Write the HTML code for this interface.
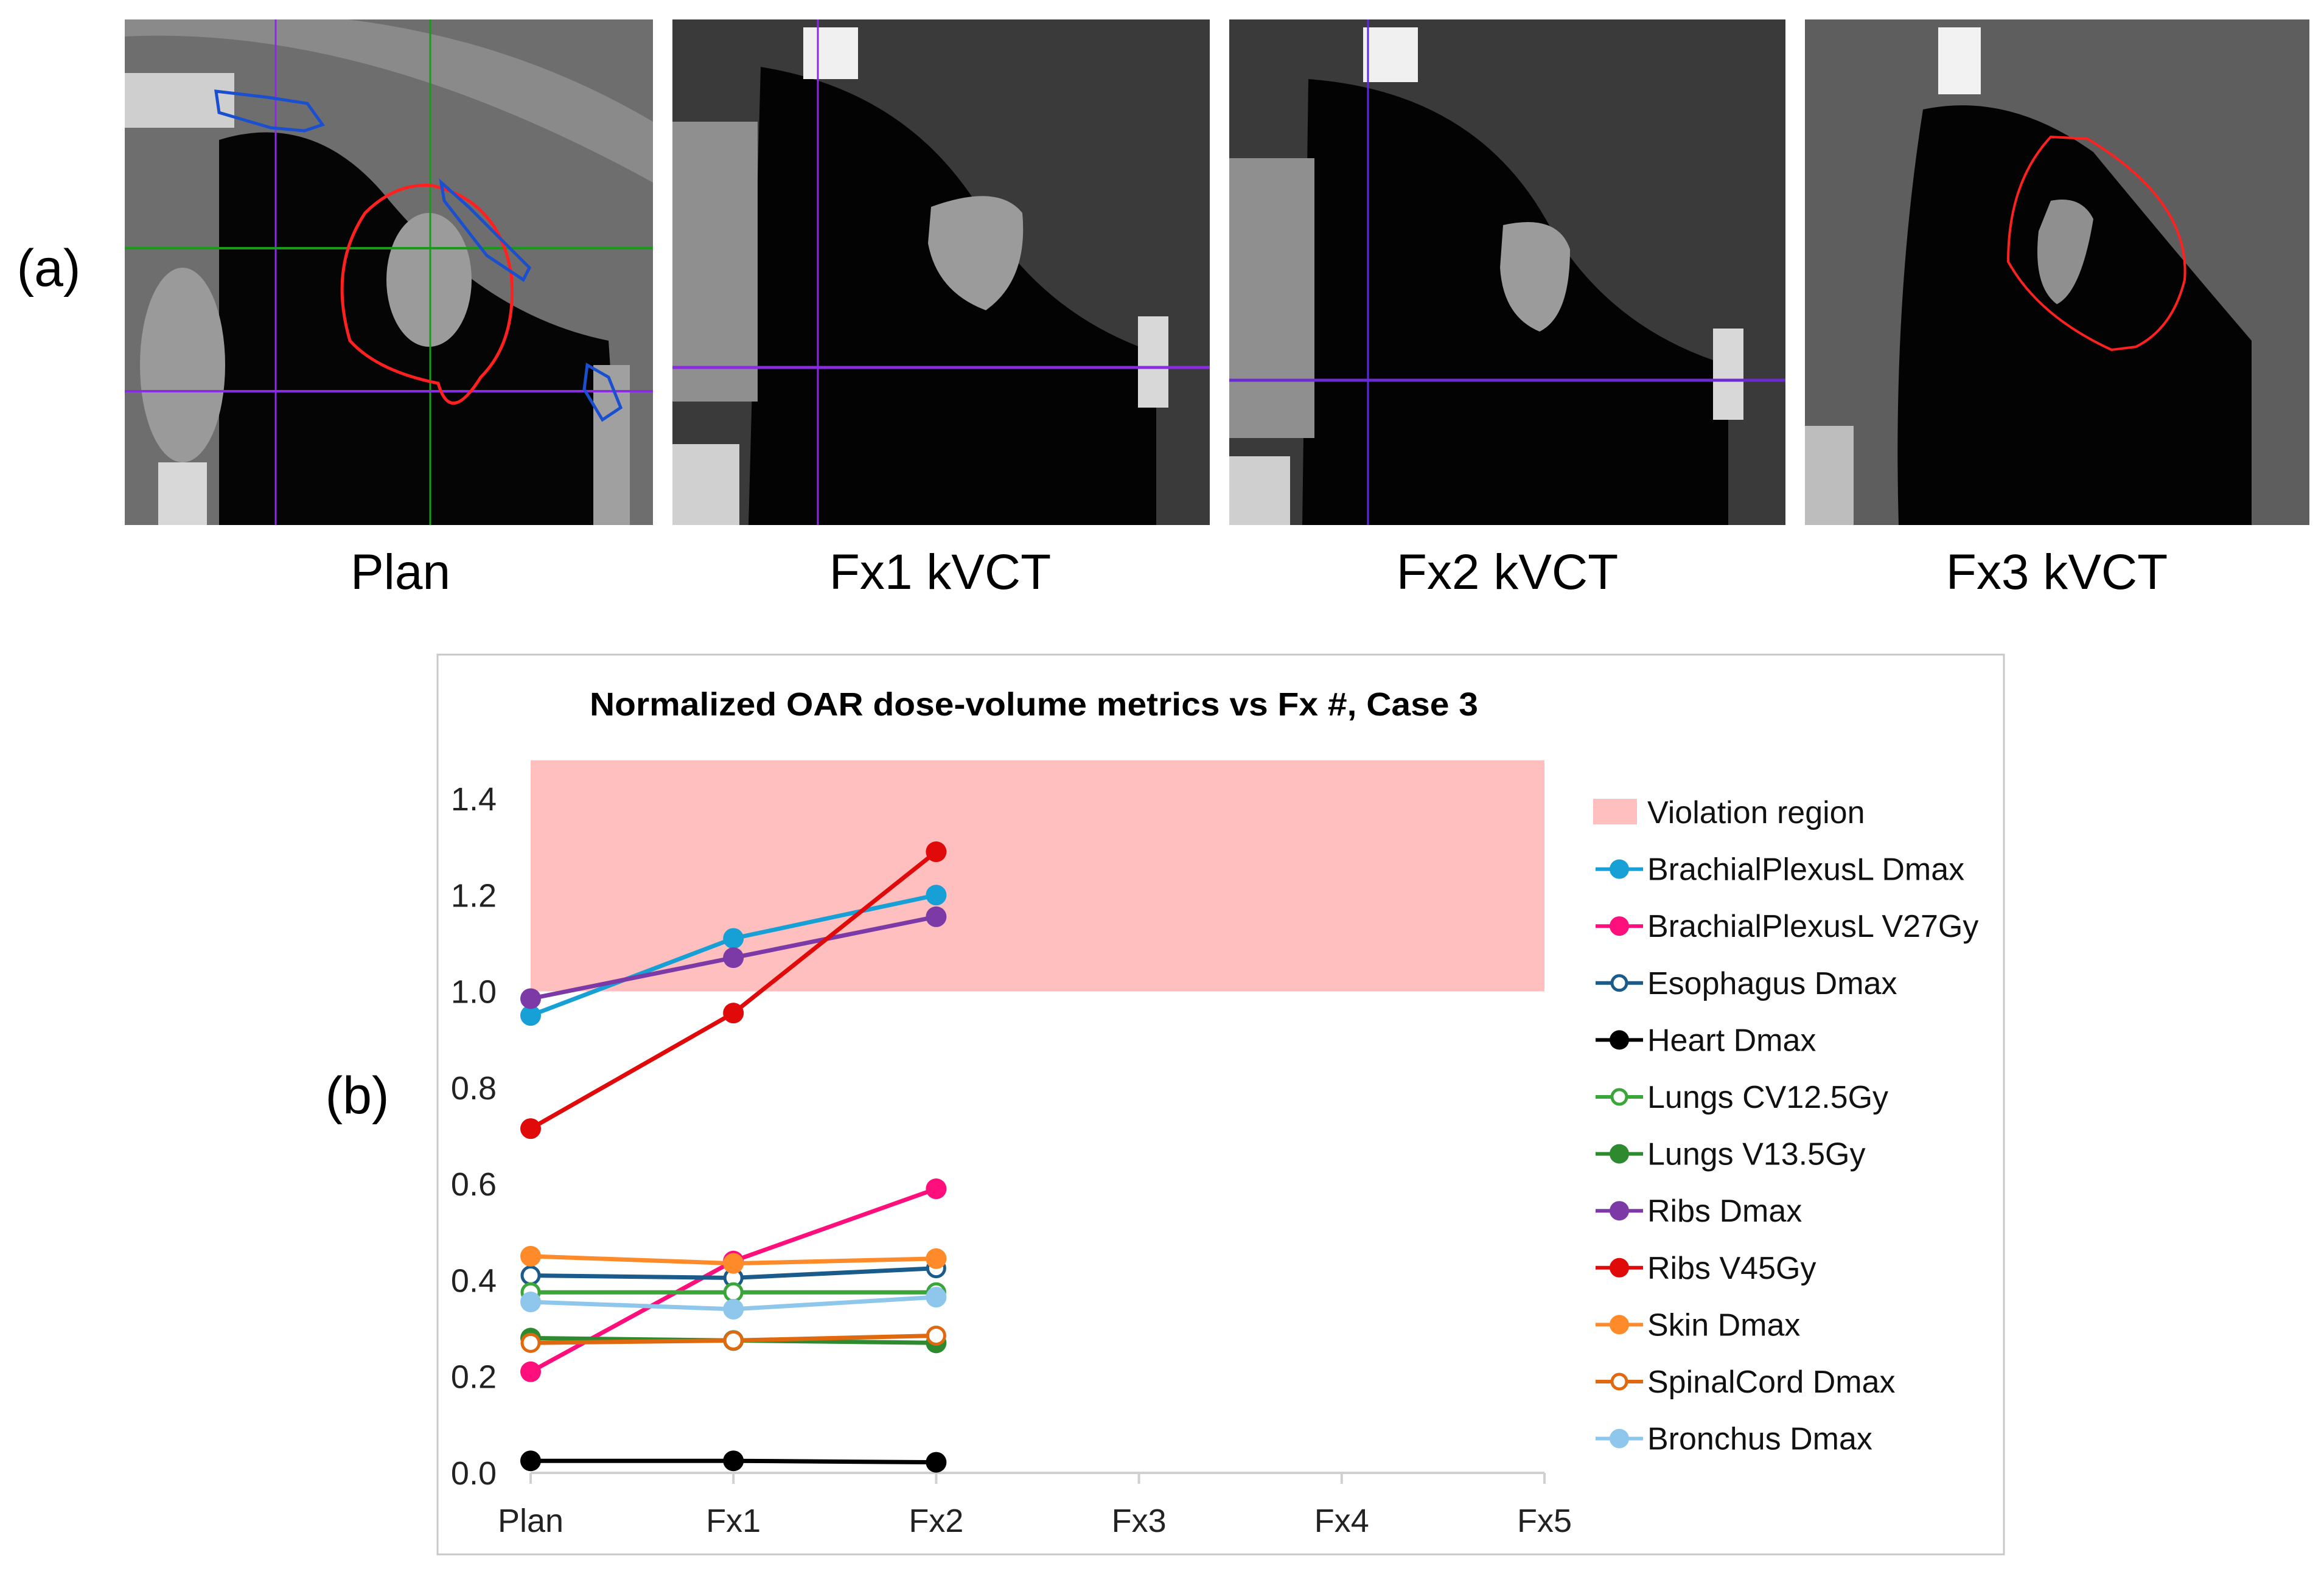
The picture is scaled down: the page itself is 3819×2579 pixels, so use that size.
<!DOCTYPE html>
<html><head><meta charset="utf-8"><style>
html,body{margin:0;padding:0;background:#fff;}
body{width:3819px;height:2579px;position:relative;overflow:hidden;font-family:"Liberation Sans",sans-serif;}
svg{position:absolute;left:0;top:0;}
</style></head><body>
<svg id="fig" width="3819" height="2579" viewBox="0 0 3819 2579">
  <defs>
    <clipPath id="c1"><rect x="205" y="32" width="868" height="831"/></clipPath>
    <clipPath id="c2"><rect x="1105" y="32" width="883" height="831"/></clipPath>
    <clipPath id="c3"><rect x="2020" y="32" width="914" height="831"/></clipPath>
    <clipPath id="c4"><rect x="2966" y="32" width="829" height="831"/></clipPath>
  </defs>
  <text x="80" y="470" font-size="86" text-anchor="middle">(a)</text>
  <g clip-path="url(#c1)">
    <rect x="205" y="32" width="868" height="831" fill="#6e6e6e"/>
    <path d="M205 60 Q600 40 1073 300 L1073 200 Q700 -20 205 30Z" fill="#8a8a8a"/>
    <rect x="205" y="120" width="180" height="90" fill="#cfcfcf"/>
    <path d="M360 230 Q520 180 640 330 Q800 520 1000 560 L1020 863 L360 863 Z" fill="#050505"/>
    <ellipse cx="300" cy="600" rx="70" ry="160" fill="#9a9a9a"/>
    <ellipse cx="705" cy="460" rx="70" ry="110" fill="#9b9b9b"/>
    <rect x="260" y="760" width="80" height="103" fill="#d8d8d8"/>
    <rect x="975" y="600" width="60" height="263" fill="#a0a0a0"/>
    <line x1="453" y1="32" x2="453" y2="863" stroke="#8a2be2" stroke-width="3"/>
    <line x1="707" y1="32" x2="707" y2="863" stroke="#1a9a1a" stroke-width="3"/>
    <line x1="205" y1="408" x2="1073" y2="408" stroke="#1a9a1a" stroke-width="4"/>
    <line x1="205" y1="643" x2="1073" y2="643" stroke="#8a2be2" stroke-width="4"/>
    <path d="M710 305 Q820 330 840 450 Q850 560 790 620 Q740 700 720 630 Q620 610 575 560 Q540 440 600 350 Q650 300 710 305Z" fill="none" stroke="#ff2020" stroke-width="5"/>
    <path d="M355 150 L440 160 L505 170 L530 205 L500 215 L445 210 L360 185Z" fill="none" stroke="#1a4fd0" stroke-width="5"/>
    <path d="M725 300 L770 340 L870 440 L860 460 L800 420 L730 330Z" fill="none" stroke="#1a4fd0" stroke-width="5"/>
    <path d="M965 600 L1000 620 L1020 670 L990 690 L960 640Z" fill="none" stroke="#1a4fd0" stroke-width="5"/>
  </g>
  <g clip-path="url(#c2)">
    <rect x="1105" y="32" width="883" height="831" fill="#3a3a3a"/>
    <path d="M1250 110 Q1500 150 1620 360 Q1720 520 1900 580 L1900 863 L1230 863 Z" fill="#030303"/>
    <rect x="1105" y="200" width="140" height="460" fill="#8f8f8f"/>
    <rect x="1320" y="45" width="90" height="85" fill="#f0f0f0"/>
    <path d="M1530 340 Q1640 300 1680 350 Q1690 460 1620 510 Q1540 480 1525 400Z" fill="#9b9b9b"/>
    <rect x="1105" y="730" width="110" height="133" fill="#d0d0d0"/>
    <rect x="1870" y="520" width="50" height="150" fill="#d8d8d8"/>
    <line x1="1344" y1="32" x2="1344" y2="863" stroke="#8a2be2" stroke-width="3"/>
    <line x1="1105" y1="604" x2="1988" y2="604" stroke="#8a2be2" stroke-width="5"/>
  </g>
  <g clip-path="url(#c3)">
    <rect x="2020" y="32" width="914" height="831" fill="#3a3a3a"/>
    <path d="M2150 130 Q2420 150 2540 360 Q2640 540 2840 600 L2840 863 L2140 863 Z" fill="#030303"/>
    <rect x="2020" y="260" width="140" height="460" fill="#8f8f8f"/>
    <rect x="2240" y="45" width="90" height="90" fill="#f0f0f0"/>
    <path d="M2470 370 Q2560 350 2580 410 Q2580 520 2530 545 Q2470 520 2465 440Z" fill="#9b9b9b"/>
    <rect x="2020" y="750" width="100" height="113" fill="#cfcfcf"/>
    <rect x="2815" y="540" width="50" height="150" fill="#d8d8d8"/>
    <line x1="2248" y1="32" x2="2248" y2="863" stroke="#5a2be2" stroke-width="3"/>
    <line x1="2020" y1="625" x2="2934" y2="625" stroke="#6a2bd2" stroke-width="5"/>
  </g>
  <g clip-path="url(#c4)">
    <rect x="2966" y="32" width="829" height="831" fill="#5e5e5e"/>
    <path d="M3160 180 Q3300 150 3440 250 Q3580 420 3700 560 L3700 863 L3120 863 Q3110 500 3160 180Z" fill="#030303"/>
    <rect x="3185" y="45" width="70" height="110" fill="#f2f2f2"/>
    <path d="M3370 330 Q3420 320 3440 360 Q3420 480 3380 500 Q3340 470 3350 380Z" fill="#8f8f8f"/>
    <rect x="2966" y="700" width="80" height="163" fill="#bdbdbd"/>
    <path d="M3370 225 L3430 228 Q3600 330 3590 460 Q3570 540 3510 570 L3470 575 Q3350 520 3300 430 Q3300 300 3370 225Z" fill="none" stroke="#ff2020" stroke-width="4"/>
  </g>
  <g font-size="82" text-anchor="middle" fill="#000">
    <text x="658" y="968">Plan</text>
    <text x="1545" y="968">Fx1 kVCT</text>
    <text x="2477" y="968">Fx2 kVCT</text>
    <text x="3380" y="968">Fx3 kVCT</text>
  </g>
  <text x="587" y="1830" font-size="86" text-anchor="middle">(b)</text>
  <rect x="719" y="1076" width="2574" height="1479" fill="#fff" stroke="#c8c8c8" stroke-width="3"/>
  <text x="1699" y="1176" font-size="54" font-weight="bold" text-anchor="middle" textLength="1460" lengthAdjust="spacingAndGlyphs">Normalized OAR dose-volume metrics vs Fx #, Case 3</text>
  <g id="plot"></g>
  <g id="legend"></g>
</svg>
<script>
const categories = ["Plan","Fx1","Fx2","Fx3","Fx4","Fx5"];
const yTicks = [0.0,0.2,0.4,0.6,0.8,1.0,1.2,1.4];
const violationRange = [1.0, 1.48];
const seriesNames = ["BrachialPlexusL Dmax","BrachialPlexusL V27Gy","Esophagus Dmax","Heart Dmax","Lungs CV12.5Gy","Lungs V13.5Gy","Ribs Dmax","Ribs V45Gy","Skin Dmax","SpinalCord Dmax","Bronchus Dmax"];
const brachialDmax = [0.95,1.11,1.20];
const brachialV27 = [0.21,0.44,0.59];
const esophagusDmax = [0.41,0.405,0.425];
const heartDmax = [0.025,0.025,0.022];
const lungsCV125 = [0.375,0.375,0.375];
const lungsV135 = [0.28,0.275,0.27];
const ribsDmax = [0.985,1.07,1.155];
const ribsV45 = [0.715,0.955,1.29];
const skinDmax = [0.45,0.435,0.445];
const spinalDmax = [0.27,0.275,0.285];
const bronchusDmax = [0.355,0.34,0.365];
const seriesValues = [brachialDmax,brachialV27,esophagusDmax,heartDmax,lungsCV125,lungsV135,ribsDmax,ribsV45,skinDmax,spinalDmax,bronchusDmax];
const seriesColors = ["#16a0d6","#ff0f7b","#1b5b8c","#000000","#3aa63a","#2e8a2e","#7b3aa6","#e00a0a","#ff8a2a","#e0680f","#8ec6ec"];
const seriesOpen = [false,false,true,false,true,false,false,false,false,true,false];
const NS="http://www.w3.org/2000/svg";
const X0=872, X1=2538, Y0=2421, Y1=1313;
function xs(i){return X0+(X1-X0)*i/(categories.length-1);}
function ys(v){return Y0-(Y0-Y1)*v/1.4;}
function mk(tag,attrs,parent){const e=document.createElementNS(NS,tag);for(const k in attrs)e.setAttribute(k,attrs[k]);parent.appendChild(e);return e;}
const plot=document.getElementById('plot');
const vr=mk('rect',{x:xs(0),y:ys(violationRange[1]),width:xs(5)-xs(0),height:ys(violationRange[0])-ys(violationRange[1]),fill:'#ffbfbf'},plot);


const ax=mk('line',{x1:xs(0),y1:Y0,x2:xs(5),y2:Y0,stroke:'#d0d0d0','stroke-width':4},plot);


categories.forEach((c,i)=>{
  const t=mk('line',{x1:xs(i),y1:Y0,x2:xs(i),y2:Y0+18,stroke:'#d0d0d0','stroke-width':4},plot);
  
  
  const l=mk('text',{x:xs(i),y:2518,'font-size':54,'text-anchor':'middle',fill:'#222'},plot);
  l.textContent=c;
  
  
});
yTicks.forEach(v=>{
  const l=mk('text',{x:816,y:ys(v)+19,'font-size':54,'text-anchor':'end',fill:'#222'},plot);
  l.textContent=v.toFixed(1);
  
  
});
seriesValues.forEach((vals,s)=>{
  const g=mk('g',{},plot);
  
  
  const pts=vals.map((v,i)=>xs(i)+','+ys(v)).join(' ');
  mk('polyline',{points:pts,fill:'none',stroke:seriesColors[s],'stroke-width':7},g);
  vals.forEach((v,i)=>{
    const c=mk('circle',{cx:xs(i),cy:ys(v),r:seriesOpen[s]?14:17,fill:seriesOpen[s]?'#fff':seriesColors[s],stroke:seriesColors[s],'stroke-width':seriesOpen[s]?5:0},g);
    
    
  });
});
const leg=document.getElementById('legend');
const LY=1335, LD=93.6;
const lr=mk('rect',{x:2618,y:LY-22,width:72,height:42,fill:'#ffbfbf'},leg);


const lt=mk('text',{x:2707,y:LY+18,'font-size':52,fill:'#111'},leg);
lt.textContent='Violation region';


seriesNames.forEach((n,s)=>{
  const y=LY+LD*(s+1);
  mk('line',{x1:2622,y1:y,x2:2700,y2:y,stroke:seriesColors[s],'stroke-width':6},leg);
  mk('circle',{cx:2661,cy:y,r:seriesOpen[s]?12:16,fill:seriesOpen[s]?'#fff':seriesColors[s],stroke:seriesColors[s],'stroke-width':seriesOpen[s]?5:0},leg);
  const t=mk('text',{x:2707,y:y+18,'font-size':52,fill:'#111'},leg);
  t.textContent=n;
  
  
});
</script>
</body></html>
